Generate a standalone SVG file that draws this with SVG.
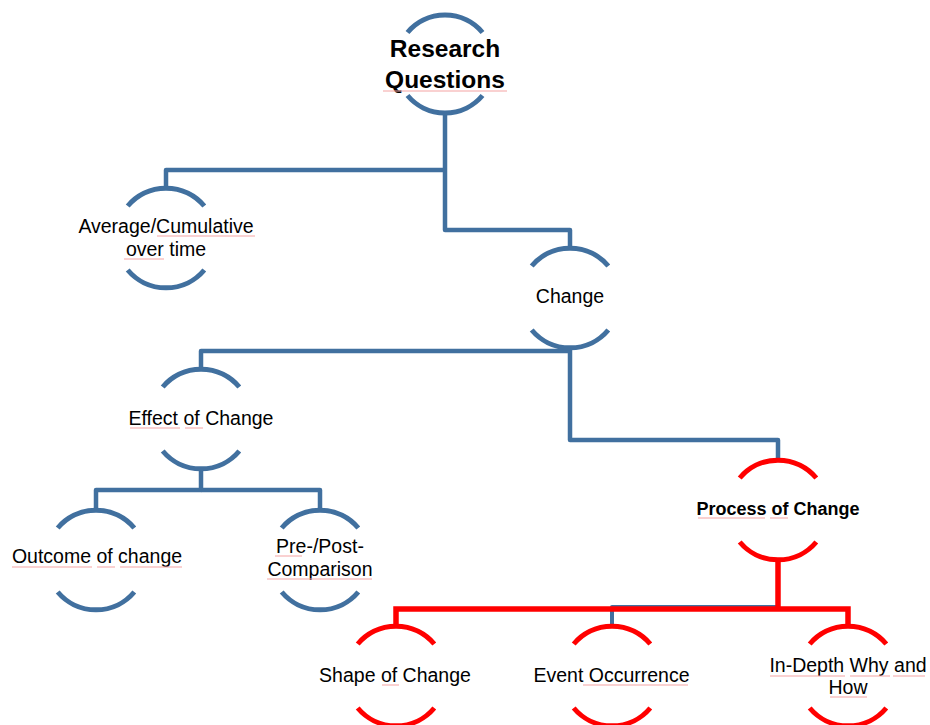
<svg xmlns="http://www.w3.org/2000/svg" width="930" height="725" viewBox="0 0 930 725">
<defs>
<style>
.bg{fill:#ffffff}
.arcB{fill:none;stroke:#41709F;stroke-width:5}
.arcR{fill:none;stroke:#FF0000;stroke-width:5}
.conB{fill:none;stroke:#41709F;stroke-width:4.5;stroke-linejoin:round}
.conB2{fill:none;stroke:#41709F;stroke-width:4;stroke-linejoin:round}
.conR{fill:none;stroke:#FF0000;stroke-width:5.5;stroke-linejoin:miter}
.t{font-family:"Liberation Sans",Arial,sans-serif;font-size:19.5px;fill:#000;text-anchor:middle}
.tb{font-family:"Liberation Sans",Arial,sans-serif;font-weight:bold;font-size:18px;fill:#000;text-anchor:middle}
.tt{font-family:"Liberation Sans",Arial,sans-serif;font-weight:bold;font-size:24.5px;fill:#000;text-anchor:middle}
.sp{fill:none;stroke:#F4A3A3;stroke-width:1}
</style>
</defs>
<rect class="bg" x="0" y="0" width="930" height="725"/>
<g id="connectors">
<path class="conB" d="M445,113 V230 H570 V249"/>
<path class="conB" d="M445,170 H166 V189"/>
<path class="conB" d="M570,347 V440 H778 V461"/>
<path class="conB" d="M570,351 H201 V370"/>
<path class="conB" d="M201,468 V490 H96 V511"/>
<path class="conB" d="M201,490 H320 V511"/>
<path class="conB2" d="M778,560 V607 H612 V627"/>
<path class="conR" d="M778,560 V609"/>
<path class="conR" d="M396,627 V609 H848 V627"/>
</g>
<g id="research-questions">
<path class="arcB" d="M407.5,32.5 A49,49 0 0 1 482.5,32.5"/>
<path class="arcB" d="M407.5,95.5 A49,49 0 0 0 482.5,95.5"/>
<text class="tt" x="445" y="57">Research</text>
<text class="tt" x="445" y="88">Questions</text>
<line class="sp" x1="383" y1="91" x2="507" y2="91"/>
</g>
<g id="average-cumulative">
<path class="arcB" d="M127.7,206 A50,50 0 0 1 204.3,206"/>
<path class="arcB" d="M127.7,270 A50,50 0 0 0 204.3,270"/>
<text class="t" x="166" y="233">Average/Cumulative</text>
<text class="t" x="166" y="256">over time</text>
<line class="sp" x1="157" y1="236" x2="255" y2="236"/>
<line class="sp" x1="124" y1="259" x2="164" y2="259"/>
</g>
<g id="change">
<path class="arcB" d="M531.7,266 A50,50 0 0 1 608.3,266"/>
<path class="arcB" d="M531.7,330 A50,50 0 0 0 608.3,330"/>
<text class="t" x="570" y="303">Change</text>
</g>
<g id="effect-of-change">
<path class="arcB" d="M162.7,387 A50,50 0 0 1 239.3,387"/>
<path class="arcB" d="M162.7,451 A50,50 0 0 0 239.3,451"/>
<text class="t" x="201" y="425">Effect of Change</text>
<line class="sp" x1="130" y1="428" x2="180" y2="428"/>
<line class="sp" x1="185" y1="428" x2="203" y2="428"/>
</g>
<g id="outcome-of-change">
<path class="arcB" d="M57.7,528 A50,50 0 0 1 134.3,528"/>
<path class="arcB" d="M57.7,592 A50,50 0 0 0 134.3,592"/>
<text class="t" x="97" y="563">Outcome of change</text>
<line class="sp" x1="12" y1="567" x2="92" y2="567"/>
<line class="sp" x1="97" y1="567" x2="115" y2="567"/>
<line class="sp" x1="120" y1="567" x2="182" y2="567"/>
</g>
<g id="pre-post-comparison">
<path class="arcB" d="M281.7,528 A50,50 0 0 1 358.3,528"/>
<path class="arcB" d="M281.7,592 A50,50 0 0 0 358.3,592"/>
<text class="t" x="320" y="553">Pre-/Post-</text>
<text class="t" x="320" y="576">Comparison</text>
<line class="sp" x1="275" y1="556" x2="302" y2="556"/>
<line class="sp" x1="267" y1="579" x2="372" y2="579"/>
</g>
<g id="process-of-change">
<path class="arcR" d="M739.7,478 A50,50 0 0 1 816.3,478"/>
<path class="arcR" d="M739.7,542 A50,50 0 0 0 816.3,542"/>
<text class="tb" x="778" y="515">Process of Change</text>
<line class="sp" x1="698" y1="518" x2="765" y2="518"/>
<line class="sp" x1="770" y1="518" x2="788" y2="518"/>
</g>
<g id="shape-of-change">
<path class="arcR" d="M357.7,644 A50,50 0 0 1 434.3,644"/>
<path class="arcR" d="M357.7,708 A50,50 0 0 0 434.3,708"/>
<text class="t" x="395" y="682">Shape of Change</text>
<line class="sp" x1="382" y1="685" x2="399" y2="685"/>
</g>
<g id="event-occurrence">
<path class="arcR" d="M573.7,644 A50,50 0 0 1 650.3,644"/>
<path class="arcR" d="M573.7,708 A50,50 0 0 0 650.3,708"/>
<text class="t" x="611.5" y="682">Event Occurrence</text>
<line class="sp" x1="583" y1="685" x2="688" y2="685"/>
</g>
<g id="in-depth-why-and-how">
<path class="arcR" d="M809.7,644 A50,50 0 0 1 886.3,644"/>
<path class="arcR" d="M809.7,708 A50,50 0 0 0 886.3,708"/>
<text class="t" x="848" y="672">In-Depth Why and</text>
<text class="t" x="848" y="694">How</text>
<line class="sp" x1="770" y1="676" x2="845" y2="676"/>
<line class="sp" x1="850" y1="676" x2="890" y2="676"/>
<line class="sp" x1="893" y1="676" x2="925" y2="676"/>
<line class="sp" x1="830" y1="697" x2="867" y2="697"/>
</g>
</svg>
